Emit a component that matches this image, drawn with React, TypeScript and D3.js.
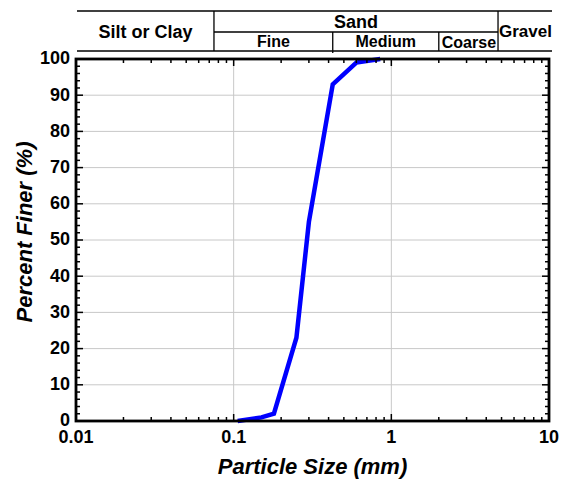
import React from 'react';
import * as d3 from 'd3';

// Sieve analysis: particle size (mm) vs percent finer
const sizes = [0.106, 0.15, 0.18, 0.25, 0.3, 0.425, 0.6, 0.85];
const percentFiner = [0, 1, 2, 23, 55, 93, 99, 100];

const xTickValues = [0.01, 0.1, 1, 10];
const xTickLabels = ['0.01', '0.1', '1', '10'];
const yTickValues = [0, 10, 20, 30, 40, 50, 60, 70, 80, 90, 100];

// soil classification boundaries (mm)
const siltSandBoundary = 0.075;
const fineMediumBoundary = 0.425;
const mediumCoarseBoundary = 2.0;
const sandGravelBoundary = 4.75;

const FONT = "'Liberation Sans', Arial, Helvetica, sans-serif";

const App = () => {
  const width = 562;
  const height = 481;
  const margin = { top: 59, right: 13, bottom: 60, left: 76 };
  const x0 = margin.left;
  const x1 = width - margin.right;
  const y0 = margin.top;
  const y1 = height - margin.bottom;

  const xScale = d3.scaleLog().domain([0.01, 10]).range([x0, x1]);
  const yScale = d3.scaleLinear().domain([0, 100]).range([y1, y0]);

  const points: [number, number][] = sizes.map((s, i) => [s, percentFiner[i]]);
  const line = d3
    .line<[number, number]>()
    .x((d) => xScale(d[0]))
    .y((d) => yScale(d[1]));

  // minor ticks on log axis
  const xMinor: number[] = [];
  [0.01, 0.1, 1].forEach((dec) => {
    for (let k = 2; k <= 9; k++) xMinor.push(dec * k);
  });
  const yMinor = d3.range(0, 101, 2).filter((v) => v % 10 !== 0);

  // header rows
  const hTop = 11;
  const hMid = 32;
  const hBot = 51;
  const hLeft = 77;
  const hRight = 552;

  return (
    <svg
      width={width}
      height={height}
      style={{ position: 'absolute', left: 0, top: 0, background: '#fff' }}
    >
      {/* header table */}
      <g stroke="#000" strokeWidth={1.3}>
        <line x1={hLeft} x2={hRight} y1={hTop} y2={hTop} />
        <line x1={hLeft} x2={hRight} y1={hBot} y2={hBot} />
        <line x1={xScale(siltSandBoundary)} x2={xScale(sandGravelBoundary)} y1={hMid} y2={hMid} />
        <line x1={xScale(siltSandBoundary)} x2={xScale(siltSandBoundary)} y1={hTop} y2={hBot} />
        <line x1={xScale(sandGravelBoundary)} x2={xScale(sandGravelBoundary)} y1={hTop} y2={hBot} />
        <line x1={xScale(fineMediumBoundary)} x2={xScale(fineMediumBoundary)} y1={hMid} y2={hBot + 2} />
        <line x1={xScale(mediumCoarseBoundary)} x2={xScale(mediumCoarseBoundary)} y1={hMid} y2={hBot} />
      </g>
      <g fontFamily={FONT} fontWeight="bold">
        <text x={(hLeft + xScale(siltSandBoundary)) / 2} y={38} fontSize={18} textAnchor="middle">
          Silt or Clay
        </text>
        <text
          x={(xScale(siltSandBoundary) + xScale(sandGravelBoundary)) / 2}
          y={28}
          fontSize={18}
          textAnchor="middle"
        >
          Sand
        </text>
        <text
          x={(xScale(siltSandBoundary) + xScale(fineMediumBoundary)) / 2}
          y={47}
          fontSize={16}
          textAnchor="middle"
        >
          Fine
        </text>
        <text
          x={(xScale(fineMediumBoundary) + xScale(mediumCoarseBoundary)) / 2}
          y={47}
          fontSize={16}
          textAnchor="middle"
        >
          Medium
        </text>
        <text x={xScale(mediumCoarseBoundary) + 3} y={48} fontSize={16}>
          Coarse
        </text>
        <text x={xScale(sandGravelBoundary) + 1} y={37} fontSize={17}>
          Gravel
        </text>
      </g>

      {/* grid */}
      <g stroke="#c8c8c8" strokeWidth={1}>
        {yTickValues.slice(1, -1).map((v) => (
          <line key={'gy' + v} x1={x0} x2={x1} y1={yScale(v)} y2={yScale(v)} />
        ))}
        {xTickValues.slice(1, -1).map((v) => (
          <line key={'gx' + v} x1={xScale(v)} x2={xScale(v)} y1={y0} y2={y1} />
        ))}
      </g>

      {/* curve */}
      <path d={line(points) || ''} fill="none" stroke="#0000ff" strokeWidth={4.5} strokeLinejoin="miter" />

      {/* ticks (inward, all sides) */}
      <g stroke="#000" strokeWidth={1.5}>
        {xTickValues.map((v) => (
          <g key={'xt' + v}>
            <line x1={xScale(v)} x2={xScale(v)} y1={y1} y2={y1 - 7} />
            <line x1={xScale(v)} x2={xScale(v)} y1={y0} y2={y0 + 7} />
          </g>
        ))}
        {xMinor.map((v) => (
          <g key={'xm' + v}>
            <line x1={xScale(v)} x2={xScale(v)} y1={y1} y2={y1 - 4} />
            <line x1={xScale(v)} x2={xScale(v)} y1={y0} y2={y0 + 4} />
          </g>
        ))}
        {yTickValues.map((v) => (
          <g key={'yt' + v}>
            <line x1={x0} x2={x0 + 7} y1={yScale(v)} y2={yScale(v)} />
            <line x1={x1} x2={x1 - 7} y1={yScale(v)} y2={yScale(v)} />
          </g>
        ))}
        {yMinor.map((v) => (
          <g key={'ym' + v}>
            <line x1={x0} x2={x0 + 4} y1={yScale(v)} y2={yScale(v)} />
            <line x1={x1} x2={x1 - 4} y1={yScale(v)} y2={yScale(v)} />
          </g>
        ))}
      </g>

      {/* frame */}
      <rect x={x0} y={y0} width={x1 - x0} height={y1 - y0} fill="none" stroke="#000" strokeWidth={2.8} />

      {/* tick labels */}
      <g fontFamily={FONT} fontWeight="bold" fontSize={18}>
        {yTickValues.map((v) => (
          <text key={'yl' + v} x={x0 - 6} y={yScale(v)} dy="0.3em" textAnchor="end">
            {v}
          </text>
        ))}
        {xTickValues.map((v, i) => (
          <text key={'xl' + v} x={xScale(v)} y={y1 + 22} textAnchor="middle">
            {xTickLabels[i]}
          </text>
        ))}
      </g>

      {/* axis titles */}
      <text
        x={(x0 + x1) / 2}
        y={474}
        fontFamily={FONT}
        fontWeight="bold"
        fontStyle="italic"
        fontSize={22}
        textAnchor="middle"
      >
        Particle Size (mm)
      </text>
      <text
        transform={`translate(32,${(y0 + y1) / 2 - 8}) rotate(-90)`}
        fontFamily={FONT}
        fontWeight="bold"
        fontStyle="italic"
        fontSize={22}
        textAnchor="middle"
      >
        Percent Finer (%)
      </text>
    </svg>
  );
};

export default App;
